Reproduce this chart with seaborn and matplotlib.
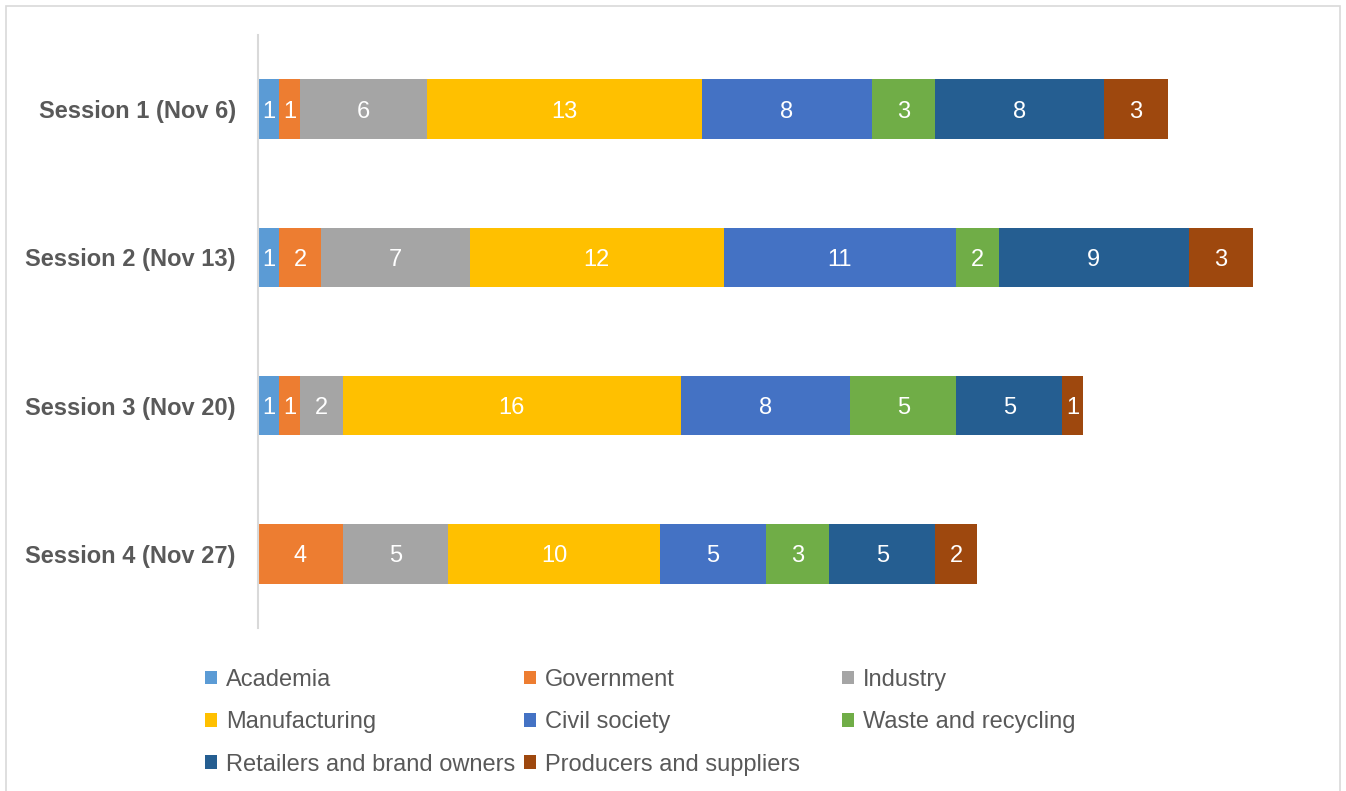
import matplotlib
matplotlib.use("Agg")
import matplotlib.pyplot as plt
from matplotlib.patches import Patch, Rectangle
import numpy as np
import pandas as pd
import seaborn as sns

sessions = ["Session 1 (Nov 6)", "Session 2 (Nov 13)", "Session 3 (Nov 20)", "Session 4 (Nov 27)"]
categories = ["Academia", "Government", "Industry", "Manufacturing", "Civil society",
              "Waste and recycling", "Retailers and brand owners", "Producers and suppliers"]
academia = [1, 1, 1, 0]
government = [1, 2, 1, 4]
industry = [6, 7, 2, 5]
manufacturing = [13, 12, 16, 10]
civil_society = [8, 11, 8, 5]
waste = [3, 2, 5, 3]
retailers = [8, 9, 5, 5]
producers = [3, 3, 1, 2]
colors = ["#5B9BD5", "#ED7D31", "#A5A5A5", "#FFC000", "#4472C4", "#70AD47", "#255E91", "#9E480E"]

series = [academia, government, industry, manufacturing, civil_society, waste, retailers, producers]
vals = np.array(series, dtype=float)  # shape (8, 4)
cum = np.cumsum(vals, axis=0)

sns.set_theme(style="white")
plt.rcParams["font.family"] = ["Liberation Sans", "DejaVu Sans"]
text_color = "#595959"

fig = plt.figure(figsize=(13.46, 7.91), dpi=100)
ax = fig.add_axes([258 / 1346, 1 - 628 / 791, 1058 / 1346, 593 / 791])

# Draw cumulative bars from largest to smallest so they overlay into stacks
for i in range(len(categories) - 1, -1, -1):
    df = pd.DataFrame({"session": sessions, "value": cum[i]})
    sns.barplot(data=df, x="value", y="session", order=sessions, color=colors[i],
                width=0.4, orient="h", errorbar=None, linewidth=0, saturation=1, ax=ax)

# Segment labels
for i in range(len(categories)):
    for j in range(len(sessions)):
        v = vals[i, j]
        if v > 0:
            ax.text(cum[i, j] - v / 2, j, f"{int(v)}", ha="center", va="center_baseline",
                    color="white", fontsize=17)

ax.set_xlim(0, 50)
ax.set_ylim(3.5, -0.5)
ax.set_xlabel("")
ax.set_ylabel("")
ax.set_xticks([])
ax.tick_params(axis="y", length=0, pad=16, labelsize=17, labelcolor=text_color)
for lbl in ax.get_yticklabels():
    lbl.set_fontweight("bold")
for s in ["top", "right", "bottom"]:
    ax.spines[s].set_visible(False)
ax.spines["left"].set_color("#D9D9D9")
ax.spines["left"].set_linewidth(1.5)

# Legend: three columns at fixed positions, row-major order
col_x = [205, 524, 842]
for c in range(3):
    idx = [k for k in range(len(categories)) if k % 3 == c]
    handles = [Patch(facecolor=colors[k], edgecolor="none") for k in idx]
    labels = [categories[k] for k in idx]
    fig.legend(handles, labels, loc="upper left",
               bbox_to_anchor=(col_x[c] / 1346, 1 - 669 / 791),
               frameon=False, fontsize=17, labelcolor=text_color,
               handlelength=0.5, handleheight=0.5, handletextpad=0.38,
               borderpad=0, borderaxespad=0, labelspacing=0.86)

# Outer border
fig.patches.append(Rectangle((6 / 1346, -0.05), (1340 - 6) / 1346, 1.05 - 6 / 791,
                             transform=fig.transFigure, fill=False,
                             edgecolor="#D9D9D9", linewidth=1.2))

fig.savefig("out.png", dpi=100)
